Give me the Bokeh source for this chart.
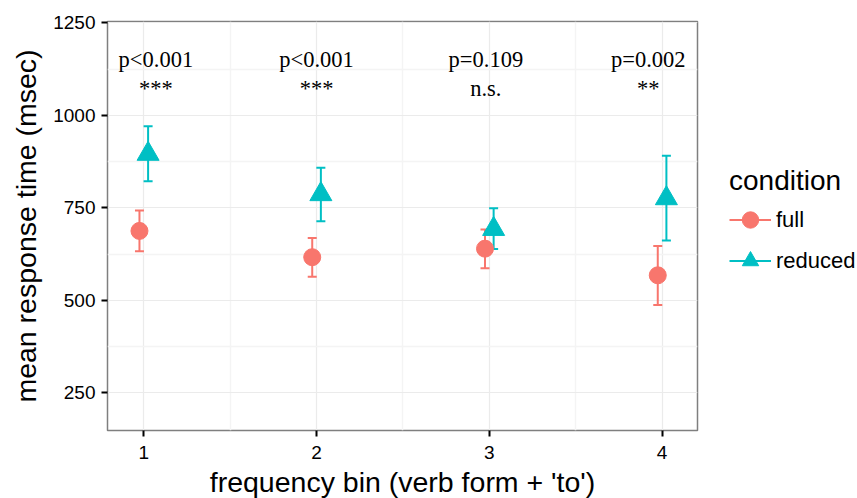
from bokeh.plotting import figure
from bokeh.models import (ColumnDataSource, Whisker, TeeHead, FixedTicker, Legend, LegendItem,
                          Range1d)
from bokeh.core.properties import value
from bokeh.embed import file_html
from bokeh.resources import INLINE

# ---- data ----
bins = [1, 2, 3, 4]
full_mean = [688, 617, 640, 568]
full_lo = [633, 564, 587, 488]
full_hi = [743, 669, 692, 647]
red_mean = [896, 787, 693, 776]
red_lo = [822, 714, 639, 662]
red_hi = [971, 859, 749, 891]
p_labels = ["p<0.001", "p<0.001", "p=0.109", "p=0.002"]
sig_labels = ["***", "***", "n.s.", "**"]
label_dx = [0.07, 0.0, -0.02, -0.08]
y_ticks = [250, 500, 750, 1000, 1250]
x_ticks = [1, 2, 3, 4]

DODGE = 0.025
LABEL_Y = 1112
FULL_C = "#F8766D"
RED_C = "#00BFC4"
SANS = "Liberation Sans"
SERIF = "Liberation Serif"
NAN = float("nan")

p = figure(frame_width=590, frame_height=409, min_border_left=107, min_border_top=21,
           min_border_bottom=52, min_border_right=144,
           x_range=Range1d(0.79, 4.205), y_range=Range1d(148.6, 1254),
           output_backend="svg", toolbar_location=None)
p.background_fill_color = "white"
p.border_fill_color = "white"
p.outline_line_color = "#7f7f7f"
p.outline_line_width = 1.5

src_f = ColumnDataSource(dict(x=[b - DODGE for b in bins], y=full_mean, lo=full_lo, hi=full_hi))
src_r = ColumnDataSource(dict(x=[b + DODGE for b in bins], y=red_mean, lo=red_lo, hi=red_hi))

for src, col in ((src_f, FULL_C), (src_r, RED_C)):
    w = Whisker(source=src, base="x", lower="lo", upper="hi", line_color=col, line_width=2,
                upper_head=TeeHead(size=9, line_color=col, line_width=2),
                lower_head=TeeHead(size=9, line_color=col, line_width=2))
    p.add_layout(w)

r_full = p.scatter("x", "y", source=src_f, marker="circle", size=17, fill_color=FULL_C,
                   line_color=FULL_C)
r_red = p.scatter("x", "y", source=src_r, marker="triangle", size=22, fill_color=RED_C,
                  line_color=RED_C)

# legend helper line glyphs (no visible data)
l_full = p.line(x=[NAN], y=[NAN], line_color=FULL_C, line_width=2)
l_red = p.line(x=[NAN], y=[NAN], line_color=RED_C, line_width=2)

# annotations
ann = ColumnDataSource(dict(x=[b + d for b, d in zip(bins, label_dx)],
                            y=[LABEL_Y] * len(bins),
                            t=[a + "\n" + s for a, s in zip(p_labels, sig_labels)]))
p.text("x", "y", text="t", source=ann, text_font=value(SERIF), text_font_size="22.5px",
       text_align="center", text_baseline="middle", text_color="black", text_line_height=1.14)

# axes
p.xaxis.ticker = FixedTicker(ticks=x_ticks, minor_ticks=[1.5, 2.5, 3.5])
p.yaxis.ticker = FixedTicker(ticks=y_ticks, minor_ticks=[375, 625, 875, 1125])
for ax in (p.xaxis[0], p.yaxis[0]):
    ax.axis_line_color = None
    ax.major_tick_line_color = "black"
    ax.major_tick_line_width = 2
    ax.major_tick_out = 6
    ax.major_tick_in = 0
    ax.minor_tick_line_color = None
    ax.major_label_text_font = SANS
    ax.major_label_text_font_size = "19px"
    ax.major_label_text_color = "black"
    ax.axis_label_text_font = SANS
    ax.axis_label_text_font_size = "28.5px"
    ax.axis_label_text_font_style = "normal"
    ax.axis_label_text_color = "black"
p.xaxis.axis_label = "frequency bin (verb form + 'to')"
p.yaxis.axis_label = "mean response time (msec)"
p.xaxis.major_label_standoff = 9
p.yaxis.major_label_standoff = 6
p.xaxis.axis_label_standoff = 4
p.yaxis.axis_label_standoff = 8

p.xgrid.grid_line_color = "#ebebeb"
p.ygrid.grid_line_color = "#ebebeb"
p.xgrid.grid_line_width = 1.2
p.ygrid.grid_line_width = 1.2
p.xgrid.minor_grid_line_color = "#f4f4f4"
p.ygrid.minor_grid_line_color = "#f4f4f4"
p.xgrid.minor_grid_line_width = 1.5
p.ygrid.minor_grid_line_width = 1.5

legend = Legend(items=[LegendItem(label="full", renderers=[l_full, r_full]),
                       LegendItem(label="reduced", renderers=[l_red, r_red])],
                location=(32, 149), title="condition",
                title_text_font=SANS, title_text_font_size="28px", title_text_font_style="normal",
                title_text_color="black", title_standoff=2,
                label_text_font=SANS, label_text_font_size="22px", label_text_color="black",
                glyph_width=42, glyph_height=41, spacing=0, padding=0, margin=0,
                label_standoff=5, border_line_color=None, background_fill_alpha=0)
p.add_layout(legend, "right")

open("out.html", "w").write(file_html(p, INLINE))
